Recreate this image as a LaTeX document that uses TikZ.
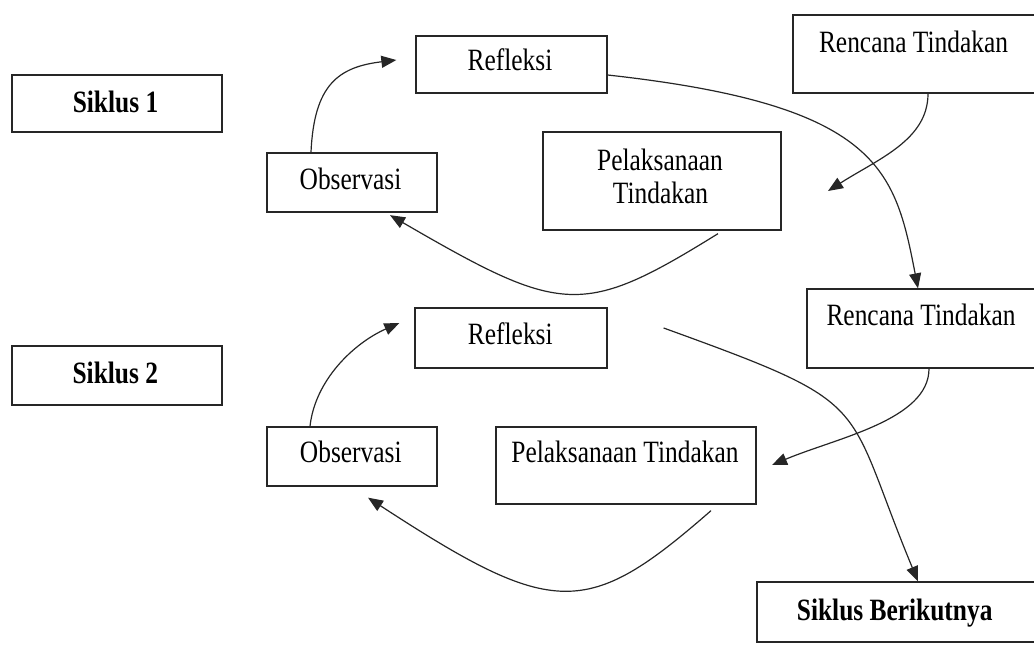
\documentclass[tikz,border=0pt]{standalone}
\usepackage{fontspec}
\setmainfont[FakeStretch=0.82]{Liberation Serif}
\usetikzlibrary{arrows.meta,calc}
\tikzset{
  box/.style={draw=black!85, line width=1.3pt, rectangle, inner sep=0pt},
  lbl/.style={inner sep=0pt, anchor=base, font=\fontsize{31}{33}\selectfont},
  blbl/.style={lbl, font=\fontsize{31}{33}\selectfont\bfseries},
  conn/.style={draw=black!85, line width=1.2pt, -{Triangle[length=15pt,width=12pt]}}
}
\begin{document}
\begin{tikzpicture}[x=1pt,y=-1pt]
\useasboundingbox (0,0) rectangle (1034,654);
% boxes
\node[box, minimum width=210pt, minimum height=57pt] (sik1) at (117,103.5) {};
\node[box, minimum width=191pt, minimum height=57pt] (ref1) at (511.5,64.5) {};
\node[box, minimum width=243pt, minimum height=78pt] (ren1) at (914.5,54) {};
\node[box, minimum width=170pt, minimum height=59pt] (obs1) at (352,182.5) {};
\node[box, minimum width=238pt, minimum height=98pt] (pel1) at (662,181) {};
\node[box, minimum width=229pt, minimum height=79pt] (ren2) at (921.5,328.5) {};
\node[box, minimum width=192pt, minimum height=60pt] (ref2) at (511,338) {};
\node[box, minimum width=210pt, minimum height=59pt] (sik2) at (117,375.5) {};
\node[box, minimum width=170pt, minimum height=59pt] (obs2) at (352,456.5) {};
\node[box, minimum width=260pt, minimum height=77pt] (pel2) at (626,465.5) {};
\node[box, minimum width=279pt, minimum height=60pt] (next) at (896.5,612) {};
% texts
\node[blbl] (tsik1) at (115.5,112) {Siklus 1};
\node[lbl] (tobs1) at (350.5,189) {Observasi};
\node[lbl] (tref1) at (510,70) {Refleksi};
\node[lbl] (tren1) at (913.5,52) {Rencana Tindakan};
\node[lbl] (tpel1a) at (660,170) {Pelaksanaan};
\node[lbl] (tpel1b) at (660.5,203) {Tindakan};
\node[lbl] (tren2) at (921,325.7) {Rencana Tindakan};
\node[lbl] (tref2) at (510.3,344) {Refleksi};
\node[blbl] (tsik2) at (115.3,383.3) {Siklus 2};
\node[lbl] (tobs2) at (350.8,462.7) {Observasi};
\node[lbl] (tpel2) at (625,462.7) {Pelaksanaan Tindakan};
\node[blbl] (tnext) at (894.7,620) {Siklus Berikutnya};
% free ends
\coordinate (c1) at (828,191);
\coordinate (c2) at (772,465);
% connectors
\draw[conn] ($(obs1.north)+(-41,0)$) .. controls (314,85) and (338,67) .. ($(ref1.west)+(-19,-4.5)$);
\draw[conn] ($(pel1.south)+(56,3)$) .. controls (582,318) and (562,315) .. ($(obs1.south)+(38,2.5)$);
\draw[conn] ($(ref1.east)+(0,10.5)$) .. controls (880,105) and (895,170) .. ($(ren2.north)+(-3.5,0)$);
\draw[conn] ($(ren1.south)+(13.5,0)$) .. controls (928,140) and (878,159) .. (c1);
\draw[conn] ($(obs2.north)+(-42,0)$) .. controls (315,380) and (354,343) .. ($(ref2.west)+(-15,-15)$);
\draw[conn] ($(pel2.south)+(85,6)$) .. controls (587,619) and (554,619) .. ($(obs2.south)+(16,11)$);
\draw[conn] ($(ren2.south)+(7.5,0)$) .. controls (929,420) and (836,438) .. (c2);
\draw[conn] ($(ref2.east)+(56,-10)$) .. controls (879,406) and (842,398) .. ($(next.north)+(21.5,0)$);
\end{tikzpicture}
\end{document}
